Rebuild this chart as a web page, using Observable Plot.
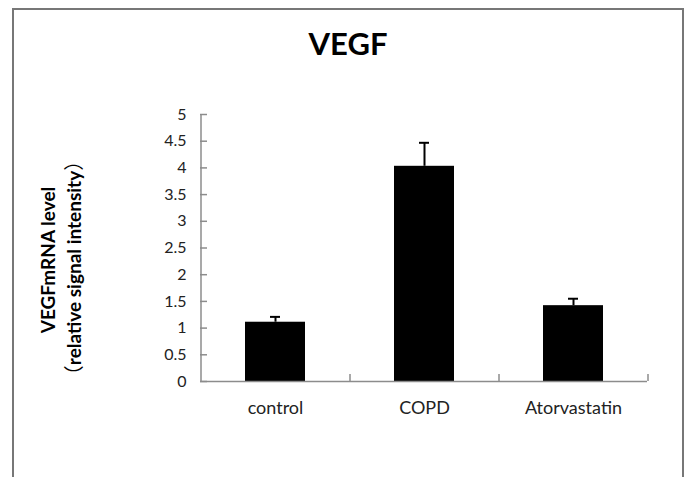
<!DOCTYPE html>
<html>
<head>
<meta charset="utf-8">
<script src="https://cdn.jsdelivr.net/npm/d3@7"></script>
<script src="https://cdn.jsdelivr.net/npm/@observablehq/plot@0.6"></script>
<style>
  html, body { margin: 0; padding: 0; background: #fff; }
  #wrap { position: relative; width: 686px; height: 477px; overflow: hidden; font-family: Lato, "Open Sans", sans-serif; }
  #border { position: absolute; left: 12px; top: 8px; width: 672px; height: 520px; border: 2px solid #777; box-sizing: border-box; }
  #title { position: absolute; left: 0; width: 696px; top: 24px; text-align: center; font-weight: bold; font-size: 31px; color: #000; }
  .ylab { position: absolute; white-space: nowrap; font-weight: bold; font-size: 19px; color: #000; transform: translate(-50%, -50%) rotate(-90deg); line-height: 1; }
  .cjk { font-family: "Noto Sans CJK SC", sans-serif; font-weight: normal; font-size: 20px; }
  #chart { position: absolute; left: 0; top: 0; }
</style>
</head>
<body>
<div id="wrap">
  <div id="border"></div>
  <div id="chart"></div>
  <div id="title">VEGF</div>
  <div class="ylab" style="left:47px; top:260px;">VEGFmRNA level</div>
  <div class="ylab" style="left:73px; top:268px;"><span class="cjk">（</span>relative signal intensity<span class="cjk">）</span></div>
</div>
<script>
const categories = ["control", "COPD", "Atorvastatin"];
const means = [1.11, 4.03, 1.42];
const errors = [0.1, 0.44, 0.13];
const yTicks = [0, 0.5, 1, 1.5, 2, 2.5, 3, 3.5, 4, 4.5, 5];

const data = categories.map((c, i) => ({cat: c, v: means[i], e: errors[i], top: means[i] + errors[i]}));

const W = 686, H = 477, mL = 200, mR = 39, mT = 114, mB = 96;
const step = (W - mL - mR) / categories.length;
const axisColor = "#8c8c8c";

const chart = Plot.plot({
  width: W,
  height: H,
  marginLeft: mL,
  marginRight: mR,
  marginTop: mT,
  marginBottom: mB,
  style: {fontFamily: "Lato, 'Open Sans', sans-serif", fontSize: "16px", color: "#222", background: "transparent"},
  x: {domain: categories, paddingInner: 0.6, paddingOuter: 0.3, label: null},
  y: {domain: [0, 5], label: null},
  marks: [
    Plot.barY(data, {x: "cat", y: "v", fill: "#000"}),
    Plot.ruleX(data, {x: "cat", y1: "v", y2: "top", stroke: "#000", strokeWidth: 2}),
    Plot.tickY(data, {x: "cat", y: "top", stroke: "#000", strokeWidth: 2, insetLeft: 25, insetRight: 25}),
    Plot.ruleY([0], {stroke: axisColor, strokeWidth: 1.5}),
    Plot.ruleX([categories[0]], {dx: -step / 2, y1: 0, y2: 5, stroke: axisColor, strokeWidth: 1.5}),
    Plot.ruleX(categories, {x: d => d, dx: step / 2, y1: 0, y2: 0.13, stroke: axisColor, strokeWidth: 1.5}),
    Plot.axisY({ticks: yTicks, tickFormat: d => String(d), tickSize: -7, tickPadding: 21, stroke: axisColor, strokeWidth: 1.5, fontSize: 16, fill: "#222"}),
    Plot.axisX({tickSize: 0, tickPadding: 20, fontSize: 18, fill: "#222"})
  ]
});
document.getElementById("chart").appendChild(chart);
</script>
</body>
</html>
